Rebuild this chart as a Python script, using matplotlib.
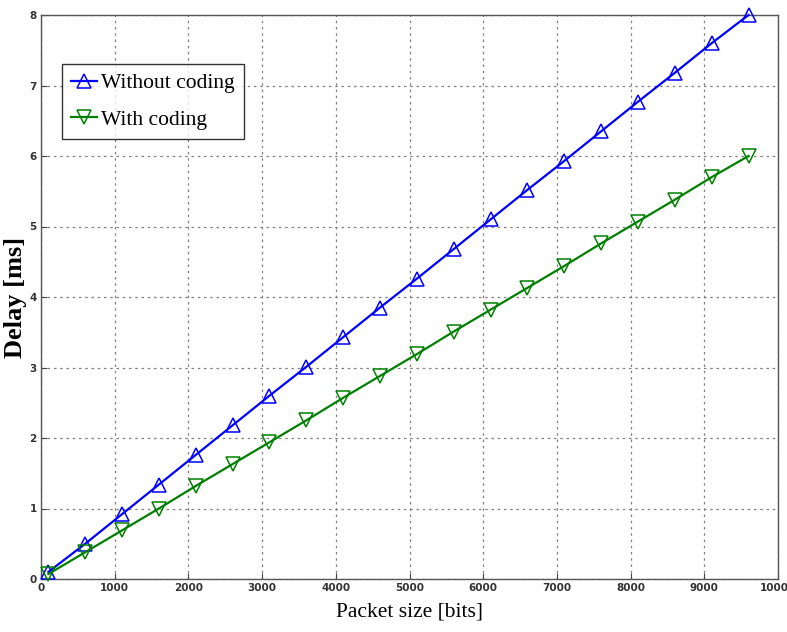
import matplotlib
matplotlib.use("Agg")
import matplotlib.pyplot as plt

packet_size = [100, 600, 1100, 1600, 2100, 2600, 3100, 3600, 4100, 4600,
               5100, 5600, 6100, 6600, 7100, 7600, 8100, 8600, 9100, 9600]
without_coding = [0.10, 0.50, 0.92, 1.34, 1.76, 2.18, 2.60, 3.01, 3.43, 3.85,
                  4.26, 4.68, 5.10, 5.52, 5.93, 6.35, 6.77, 7.18, 7.60, 8.00]
with_coding = [0.07, 0.38, 0.69, 1.00, 1.32, 1.63, 1.94, 2.25, 2.57, 2.88,
               3.19, 3.51, 3.82, 4.13, 4.44, 4.76, 5.07, 5.38, 5.70, 6.00]
xticks = [0, 1000, 2000, 3000, 4000, 5000, 6000, 7000, 8000, 9000, 10000]
yticks = [0, 1, 2, 3, 4, 5, 6, 7, 8]

fig = plt.figure(figsize=(7.87, 6.32), dpi=100)
ax = fig.add_axes([41/787, 1-579/632, (778-41)/787, (579-15)/632])

ax.plot(packet_size, without_coding, color='#0000ff', lw=1.6, marker='^',
        markersize=10, markerfacecolor='none', markeredgecolor='#0000ff',
        markeredgewidth=1.1, label='Without coding', clip_on=False, zorder=3)
ax.plot(packet_size, with_coding, color='#008000', lw=1.6, marker='v',
        markersize=10, markerfacecolor='none', markeredgecolor='#008000',
        markeredgewidth=1.1, label='With coding', clip_on=False, zorder=3)

ax.set_xlim(0, 10000)
ax.set_ylim(0, 8)
ax.set_xticks(xticks)
ax.set_yticks(yticks)
ax.set_xticklabels([str(v) for v in xticks])
ax.set_yticklabels([str(v) for v in yticks])
ax.grid(True, color='#808080', linestyle=(0, (2, 3)), linewidth=0.9)
for lab in ax.get_xticklabels() + ax.get_yticklabels():
    lab.set_fontfamily(['Liberation Sans Narrow', 'DejaVu Sans'])
    lab.set_fontsize(7.5)
    lab.set_fontweight('bold')
    lab.set_color('#333333')
ax.tick_params(direction='in', length=4, width=0.8, color='#444444', pad=3)
for s in ax.spines.values():
    s.set_color('#555555')
    s.set_linewidth(1.0)

ax.set_xlabel('Packet size [bits]', fontfamily='Liberation Serif', fontsize=15.5,
              labelpad=7)
ax.set_ylabel('Delay [ms]', fontfamily='Liberation Serif', fontsize=19,
              fontweight='bold', labelpad=2)

leg = ax.legend(loc='upper left', bbox_to_anchor=(21/737, 1-(64-15)/564),
                prop={'family': 'Liberation Serif', 'size': 15.5},
                frameon=True, fancybox=False, edgecolor='black',
                borderpad=0.43, labelspacing=0.77, handlelength=1.2,
                handletextpad=0.2, borderaxespad=0)
leg.get_frame().set_linewidth(1.0)

fig.savefig('out.png', dpi=100)
